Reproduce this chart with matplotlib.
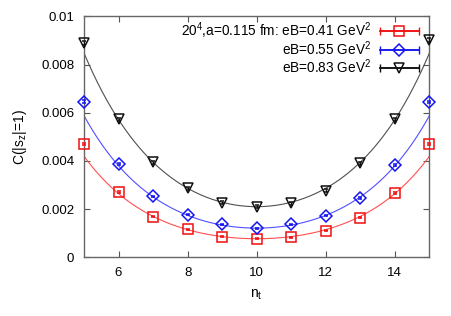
import numpy as np
import matplotlib
matplotlib.use("Agg")
import matplotlib.pyplot as plt
from matplotlib.legend_handler import HandlerLine2D
from matplotlib.lines import Line2D
from matplotlib.ticker import FixedLocator, FuncFormatter

plt.rcParams['font.family'] = ['Liberation Sans', 'DejaVu Sans']
plt.rcParams['mathtext.fontset'] = 'custom'
plt.rcParams['mathtext.rm'] = 'Liberation Sans'
plt.rcParams['mathtext.it'] = 'Liberation Sans:italic'
plt.rcParams['mathtext.default'] = 'regular'

# ---- data ----
nt = [5, 6, 7, 8, 9, 10, 11, 12, 13, 14, 15]
c_041 = [0.00470, 0.00270, 0.00168, 0.00116, 0.00085, 0.00076, 0.00084, 0.00110, 0.00164, 0.00267, 0.00470]
e_041 = [0.00004, 0.00003, 0.00002, 0.00002, 0.00002, 0.00002, 0.00002, 0.00002, 0.00002, 0.00003, 0.00004]
c_055 = [0.00646, 0.00388, 0.00253, 0.00177, 0.00137, 0.00120, 0.00137, 0.00173, 0.00246, 0.00384, 0.00645]
e_055 = [0.00005, 0.00004, 0.00003, 0.00003, 0.00003, 0.00003, 0.00003, 0.00003, 0.00003, 0.00004, 0.00005]
c_083 = [0.00890, 0.00572, 0.00394, 0.00286, 0.00227, 0.00210, 0.00224, 0.00277, 0.00390, 0.00573, 0.00902]
e_083 = [0.00007, 0.00006, 0.00005, 0.00005, 0.00005, 0.00005, 0.00005, 0.00005, 0.00005, 0.00006, 0.00007]

# cosh fit parameters: C(nt) = A * cosh(m * (nt - nt0))
fit_A = [0.00077, 0.00121, 0.00210]
fit_m = [0.476, 0.4526, 0.4146]
fit_nt0 = 10.0

labels = ["$20^4$,a=0.115 fm: eB=0.41 GeV$^2$",
          "eB=0.55 GeV$^2$",
          "eB=0.83 GeV$^2$"]
colors = ["#f01010", "#1515f0", "#101010"]
line_colors = ["#ff5050", "#5050ff", "#505050"]
markers = ["s", "D", "v"]
msizes = [6.5, 5.8, 6.8]

xticks = [6, 8, 10, 12, 14]
yticks = [0, 0.002, 0.004, 0.006, 0.008, 0.01]

fig = plt.figure(figsize=(4.52, 3.16), dpi=100)
ax = fig.add_axes([0.1858, 0.1858, 0.7642, 0.7626])

series = [(c_041, e_041), (c_055, e_055), (c_083, e_083)]
xf = np.linspace(5, 15, 300)
handles = []
for i, (c, e) in enumerate(series):
    ax.plot(xf, fit_A[i] * np.cosh(fit_m[i] * (xf - fit_nt0)), color=line_colors[i], lw=0.8, zorder=2)
    ax.errorbar(nt, c, yerr=e, fmt=markers[i], mfc='none', mec=colors[i], ecolor=colors[i],
                ms=msizes[i], mew=1.1, elinewidth=1.0, capsize=1.5, zorder=3, clip_on=False)
    h_caps = Line2D([], [], color=colors[i], lw=1.1, marker='|', ms=6, mew=1.0)
    h_mark = Line2D([], [], color=colors[i], lw=1.1, marker=markers[i], ms=msizes[i], mfc='none', mew=1.1)
    handles.append((h_caps, h_mark))

hmap = {}
for hc, hm in handles:
    hmap[hc] = HandlerLine2D(numpoints=2, marker_pad=0.0)
    hmap[hm] = HandlerLine2D(numpoints=1)

leg = ax.legend(handles, labels, handler_map=hmap, loc='upper right',
                bbox_to_anchor=(0.973, 0.99), markerfirst=False, frameon=False,
                fontsize=9.8, handlelength=2.85, handletextpad=0.65, labelspacing=-0.08,
                borderpad=0.1, borderaxespad=0)

ax.set_xlim(5, 15)
ax.set_ylim(0, 0.01)
ax.xaxis.set_major_locator(FixedLocator(xticks))
ax.yaxis.set_major_locator(FixedLocator(yticks))
ax.yaxis.set_major_formatter(FuncFormatter(lambda v, p: "%g" % v))
ax.tick_params(direction='in', top=True, right=True, length=4, width=0.8,
               labelsize=9.5, color='#555555', pad=7)
for s in ax.spines.values():
    s.set_color('#666666')
    s.set_linewidth(1.0)

ax.set_xlabel("n$_t$", fontsize=10, labelpad=6)
ax.set_ylabel("C(|s$_z$|=1)", fontsize=10, labelpad=9)

fig.savefig("out.png", dpi=100)
